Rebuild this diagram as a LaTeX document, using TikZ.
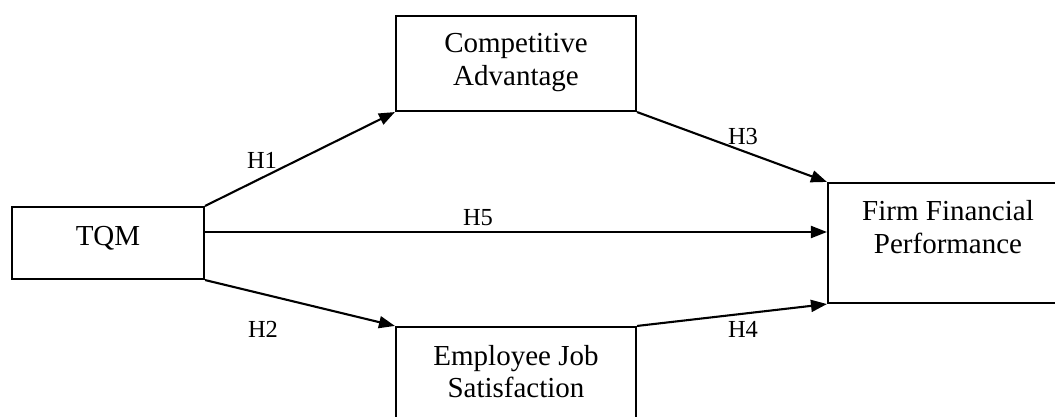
\documentclass[tikz,border=0pt]{standalone}
\usepackage{fontspec}
\setmainfont{Liberation Serif}
\usetikzlibrary{arrows.meta}
\begin{document}
\begin{tikzpicture}[x=1pt,y=-1pt,
  boxstyle/.style={draw=black,line width=2.1pt,inner sep=0pt},
  boxtext/.style={anchor=base,inner sep=0pt,font=\fontsize{29}{33}\selectfont},
  hlabel/.style={anchor=base,inner sep=0pt,font=\fontsize{24.5}{29}\selectfont},
  link/.style={line width=2.1pt,-{Triangle[length=16pt,width=12pt]}}]
\useasboundingbox (0,0) rectangle (1055,417);
% boxes
\node[boxstyle,minimum width=192pt,minimum height=72pt] (tqm) at (108,243) {};
\node[boxstyle,minimum width=240pt,minimum height=95pt] (ca) at (516,63.5) {};
\node[boxstyle,minimum width=240pt,minimum height=120pt] (ffp) at (948,243) {};
\node[boxstyle,minimum width=240pt,minimum height=120pt] (ejs) at (516,387) {};
% texts
\node[boxtext] (tqmt) at (108,245) {TQM};
\node[boxtext] (cat1) at (516,53) {Competitive};
\node[boxtext] (cat2) at (516,86) {Advantage};
\node[boxtext] (ffpt1) at (948,220) {Firm Financial};
\node[boxtext] (ffpt2) at (948,253) {Performance};
\node[boxtext] (ejst1) at (516,365) {Employee Job};
\node[boxtext] (ejst2) at (516,397) {Satisfaction};
% anchor coordinates
\coordinate (t5) at (tqm.east |- 0,232);
\coordinate (f5) at (ffp.west |- 0,232);
% connectors
\draw[link] (tqm.north east) -- (ca.south west);
\draw[link] (tqm.south east) -- (ejs.north west);
\draw[link] (t5) -- (f5);
\draw[link] (ca.south east) -- (ffp.north west);
\draw[link] (ejs.north east) -- (ffp.south west);
% labels
\node[hlabel] (h1) at (262,168) {H1};
\node[hlabel] (h2) at (263,337) {H2};
\node[hlabel] (h5) at (478,225) {H5};
\node[hlabel] (h3) at (743,145) {H3};
\node[hlabel] (h4) at (743,337) {H4};
\end{tikzpicture}
\end{document}
